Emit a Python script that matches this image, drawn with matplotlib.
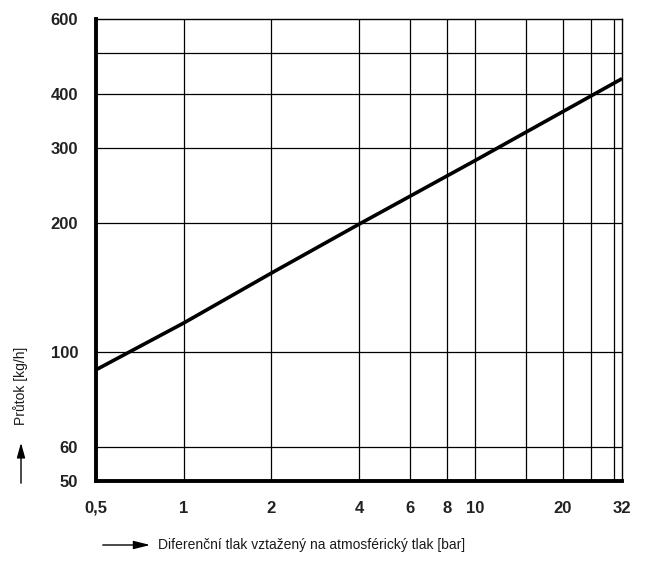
import matplotlib
matplotlib.use("Agg")
import matplotlib.pyplot as plt
from matplotlib.ticker import FixedLocator, NullLocator

plt.rcParams["font.family"] = ["Liberation Sans", "DejaVu Sans"]

# data
pressure = [0.5, 1, 2, 4, 10, 32]
flow = [91, 117, 153, 199, 280, 435]

x_ticks = [0.5, 1, 2, 4, 6, 8, 10, 20, 32]
x_tick_labels = ["0,5", "1", "2", "4", "6", "8", "10", "20", "32"]
x_grid = [1, 2, 4, 6, 8, 10, 15, 20, 25, 30]
y_ticks = [50, 60, 100, 200, 300, 400, 600]
y_tick_labels = ["50", "60", "100", "200", "300", "400", "600"]
y_grid = [60, 100, 200, 300, 400, 500]

fig = plt.figure(figsize=(6.5, 5.7), dpi=100)
ax = fig.add_axes([0.148, 0.156, 0.809, 0.811])
ax.set_xscale("log")
ax.set_yscale("log")
ax.set_xlim(0.5, 32)
ax.set_ylim(50, 600)

for gx in x_grid:
    ax.axvline(gx, color="black", lw=0.9, zorder=1)
for gy in y_grid:
    ax.axhline(gy, color="black", lw=0.9, zorder=1)

ax.plot(pressure, flow, color="black", lw=2.6, zorder=3, solid_capstyle="butt")

ax.xaxis.set_major_locator(FixedLocator(x_ticks))
ax.xaxis.set_minor_locator(NullLocator())
ax.set_xticklabels(x_tick_labels)
ax.yaxis.set_major_locator(FixedLocator(y_ticks))
ax.yaxis.set_minor_locator(NullLocator())
ax.set_yticklabels(y_tick_labels)
ax.tick_params(axis="both", length=0, labelsize=12)
ax.tick_params(axis="x", pad=14)
ax.tick_params(axis="y", pad=13)
for lbl in ax.get_xticklabels() + ax.get_yticklabels():
    lbl.set_color("#222222")
    lbl.set_fontweight("bold")

ax.spines["left"].set_linewidth(2.8)
ax.spines["bottom"].set_linewidth(2.8)
ax.spines["top"].set_linewidth(1.0)
ax.spines["right"].set_linewidth(1.0)

# y-axis label with upward arrow
fig.text(21 / 650, 1 - 386 / 570, "Průtok [kg/h]", rotation=90, ha="center",
         va="center", fontsize=10, color="#1a1a1a")
fig.add_artist(matplotlib.patches.FancyArrowPatch(
    (21 / 650, 1 - 486 / 570), (21 / 650, 1 - 440 / 570),
    transform=fig.transFigure, arrowstyle="-|>,head_length=9,head_width=2.5",
    color="black", lw=1.0))

# x-axis label with rightward arrow
fig.text(158 / 650, 1 - 545 / 570,
         "Diferenční tlak vztažený na atmosférický tlak [bar]",
         ha="left", va="center", fontsize=10, color="#1a1a1a")
fig.add_artist(matplotlib.patches.FancyArrowPatch(
    (100 / 650, 1 - 545 / 570), (153 / 650, 1 - 545 / 570),
    transform=fig.transFigure, arrowstyle="-|>,head_length=10,head_width=2.5",
    color="black", lw=1.0))

fig.savefig("out.png", dpi=100)
